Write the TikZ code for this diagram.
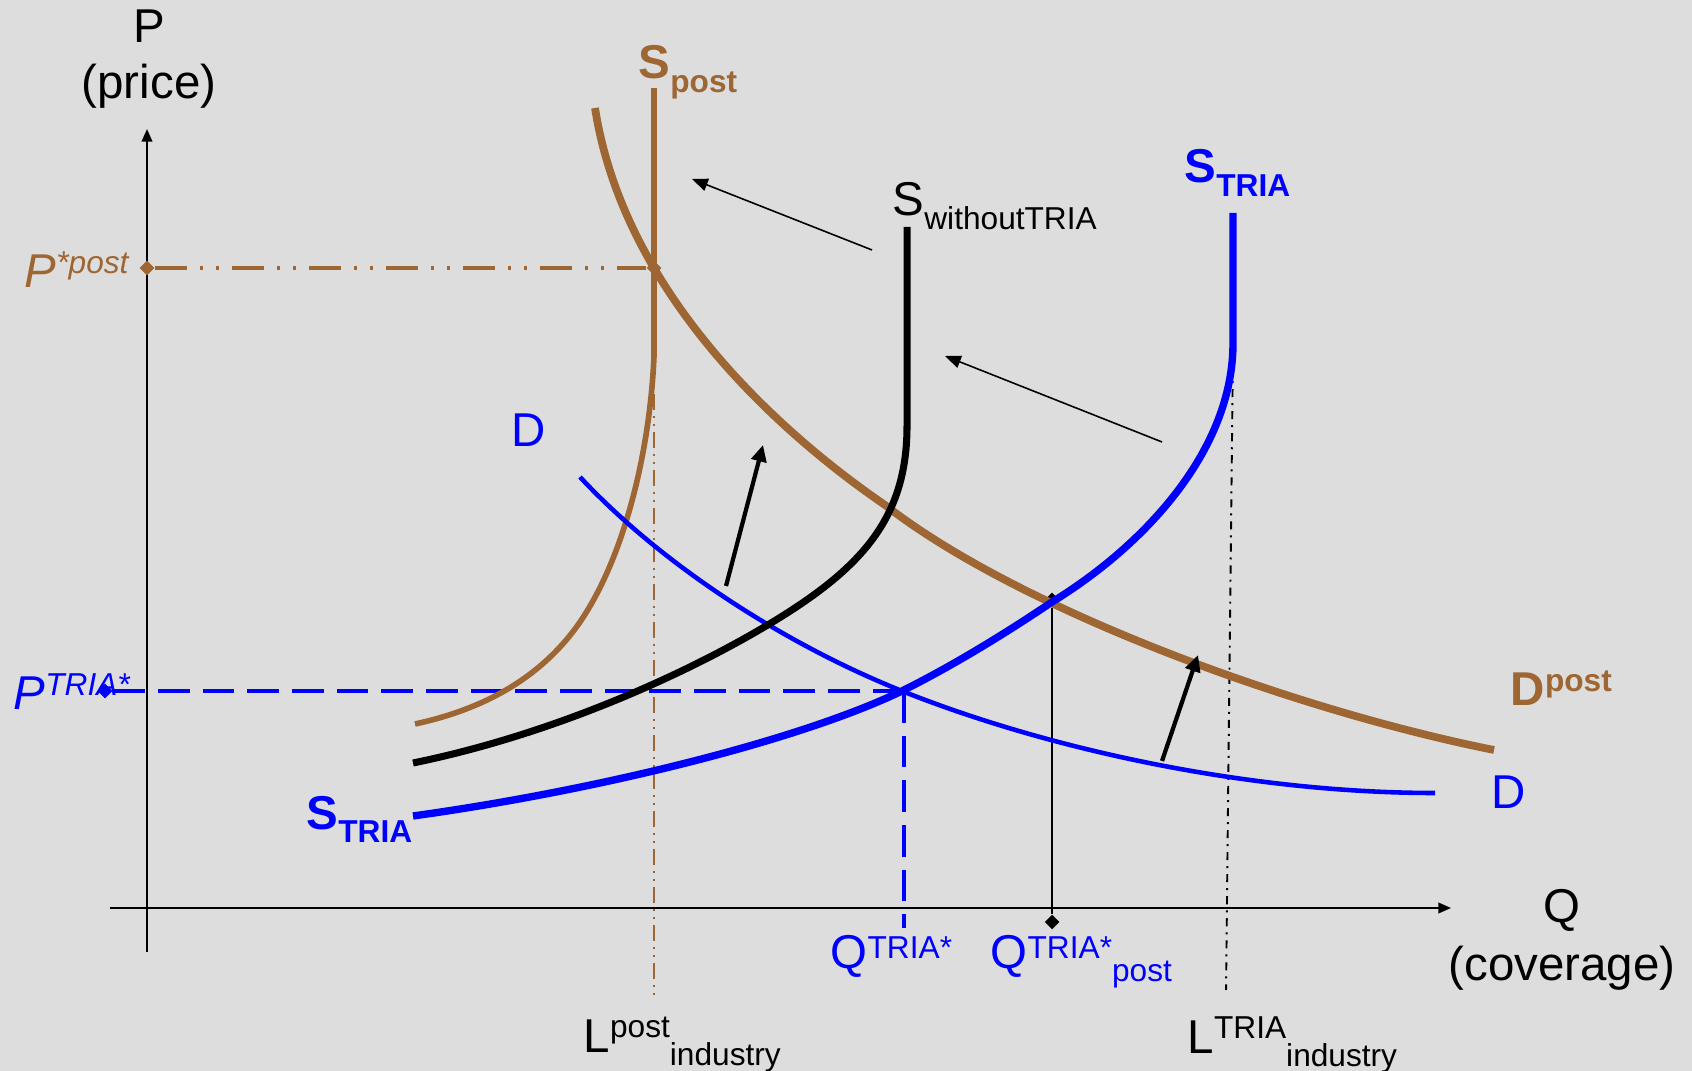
\documentclass[tikz,border=0pt]{standalone}
\usepackage{fontspec}
\setmainfont{Liberation Sans}
\usetikzlibrary{arrows.meta,shapes.geometric}
\definecolor{postbrown}{RGB}{158,102,50}
\definecolor{bggray}{RGB}{221,221,221}
\newcommand{\sps}[2][4.2pt]{\raisebox{#1}{\fontsize{9}{9}\selectfont #2}}
\newcommand{\sbs}[1]{\raisebox{-3.8pt}{\fontsize{9}{9}\selectfont #1}}
\tikzset{
  lbl/.style={inner sep=0pt, anchor=base west, font=\fontsize{13.5}{16}\selectfont},
  blbl/.style={lbl, font=\fontsize{13.5}{16}\selectfont\bfseries},
  ilbl/.style={lbl, font=\fontsize{13.5}{16}\selectfont\itshape},
  axis/.style={line width=0.6pt, -{Triangle[length=3.6pt,width=3pt]}},
  dmd/.style={diamond, inner sep=0pt, minimum size=4.3pt},
  shift arrow/.style={line width=0.45pt, -{Triangle[length=4.5pt,width=3.6pt]}},
  up arrow/.style={line width=1.2pt, -{Triangle[length=4.7pt,width=4.3pt]}},
  blue dash/.style={blue, line width=1pt, dash pattern=on 9pt off 3.7pt},
  brown dashdot/.style={postbrown, line width=0.9pt,
    dash pattern=on 9.1pt off 3.7pt on 0.85pt off 3.7pt on 0.85pt off 3.7pt},
}
\begin{document}
\begin{tikzpicture}[x=0.01cm,y=-0.01cm]
  \fill[bggray] (0,0) rectangle (1692,1071);
  \useasboundingbox (0,0) rectangle (1692,1071);

  % axes
  \coordinate (o1) at (147,952);
  \coordinate (ptop) at (147,129);
  \coordinate (o2) at (110,908);
  \coordinate (qend) at (1451,908);
  \draw[axis] (o1) -- (ptop);
  \draw[axis] (o2) -- (qend);
  \node[lbl, anchor=base] (plbl) at (149,43) {P};
  \node[lbl, anchor=base] (pprice) at (149,99) {(price)};
  \node[lbl, anchor=base] (qlbl) at (1562,922) {Q};
  \node[lbl, anchor=base] (qcov) at (1562,980) {(coverage)};

  % guide lines
  \node[dmd, fill=postbrown] (ppost) at (147,268) {};
  \node[dmd, fill=postbrown] (epost) at (654,268) {};
  \draw[brown dashdot] (ppost) -- (epost);
  \draw[postbrown, line width=0.6pt,
    dash pattern=on 4.55pt off 1.7pt on 0.57pt off 1.7pt on 0.57pt off 1.7pt]
    (654,356) coordinate (lpost1) -- (654,995) coordinate (lpost2);
  \draw[line width=0.55pt, dash pattern=on 2.3pt off 1.7pt on 0.57pt off 1.7pt]
    (1233,345) coordinate (ltria1) -- (1226,990) coordinate (ltria2);
  \node[dmd, fill=blue] (ptria) at (105,691) {};
  \coordinate (etria) at (902,691);
  \draw[blue dash] (ptria) -- (etria);
  \draw[blue dash] (904,691) coordinate (qt1) -- (904,928) coordinate (qt2);
  \node[dmd, fill=black] (epost2) at (1052,600) {};
  \node[dmd, fill=black] (qpost) at (1052,922) {};
  \draw[line width=0.45pt] (epost2) -- (qpost);

  % curves
  \draw[postbrown, line width=1.7pt] (654,88) -- (654,356);
  \draw[postbrown, line width=1.6pt] (415,724)
    .. controls (480,710) and (540,680) .. (580,622)
    .. controls (625,556) and (650,450) .. (654,356);
  \draw[postbrown, line width=2.2pt] (595,108)
    .. controls (625,300) and (790,440) .. (885,505)
    .. controls (1020,610) and (1294,710) .. (1494,750);
  \draw[blue, line width=1.3pt] (580,477)
    .. controls (660,563) and (782,643) .. (902,691)
    .. controls (1050,750) and (1250,793) .. (1435,793);
  \draw[line width=2pt] (907,227) -- (907,426)
    .. controls (907,520) and (860,570) .. (766,626)
    .. controls (680,677) and (550,735) .. (413,763);
  \draw[blue, line width=2.1pt] (1233,213) -- (1233,343)
    .. controls (1233,450) and (1145,545) .. (1052,602)
    .. controls (1000,637) and (950,667) .. (902,691)
    .. controls (800,740) and (600,790) .. (413,816);

  % shift arrows
  \coordinate (a1s) at (872,250);
  \coordinate (a1e) at (692,179);
  \coordinate (a2s) at (1162,442);
  \coordinate (a2e) at (945,356);
  \coordinate (a3s) at (726,586);
  \coordinate (a3e) at (763,445);
  \coordinate (a4s) at (1162,761);
  \coordinate (a4e) at (1198,655);
  \draw[shift arrow] (a1s) -- (a1e);
  \draw[shift arrow] (a2s) -- (a2e);
  \draw[up arrow] (a3s) -- (a3e);
  \draw[up arrow] (a4s) -- (a4e);

  % curve labels
  \node[blbl, text=postbrown] (spost) at (638,79) {S\sbs{post}};
  \node[lbl] (swithout) at (892,216) {S\sbs{withoutTRIA}};
  \node[blbl, text=blue] (stria1) at (1184,183) {S\sbs{TRIA}};
  \node[blbl, text=blue] (stria2) at (306,829) {S\sbs{TRIA}};
  \node[lbl, text=blue] (dlbl1) at (511,447) {D};
  \node[lbl, text=blue] (dlbl2) at (1491,808) {D};
  \node[blbl, text=postbrown] (dpost) at (1510,706) {D\sps{post}};

  % axis labels
  \node[ilbl, text=postbrown] (ppostlbl) at (24,288) {P\sps{*post}};
  \node[ilbl, text=blue] (ptrialbl) at (13,710) {P\sps{TRIA*}};
  \node[lbl, text=blue] (qtrialbl) at (830,968) {Q\sps[2.8pt]{TRIA*}};
  \node[lbl, text=blue] (qpostlbl) at (990,968) {Q\sps[2.8pt]{TRIA*}\sbs{post}};
  \node[lbl] (lpostlbl) at (583,1052) {L\sps{post}\sbs{industry}};
  \node[lbl] (ltrialbl) at (1187,1053) {L\sps{TRIA}\sbs{industry}};
\end{tikzpicture}
\end{document}
